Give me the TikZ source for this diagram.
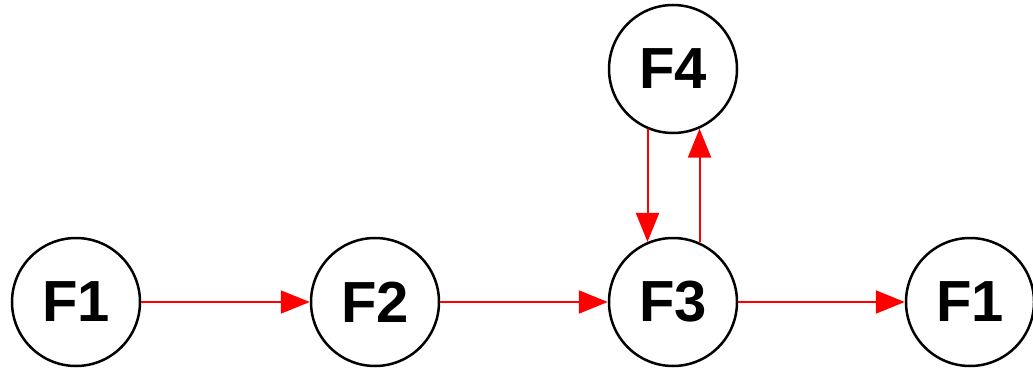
\documentclass[tikz,border=0pt]{standalone}
\usepackage{fontspec}
\setmainfont{Liberation Sans}
\usetikzlibrary{arrows.meta}
\begin{document}
\begin{tikzpicture}[x=1pt,y=-1pt,
  fnode/.style={circle,draw=black,line width=2.5pt,minimum size=128pt,inner sep=0pt,font=\fontsize{58}{60}\selectfont\bfseries},
  redarrow/.style={draw=red,line width=2pt,-{Triangle[length=29pt,width=23pt]}}]
\useasboundingbox (0,0) rectangle (1033,372);
\node[fnode] (a) at (76,302) {F1};
\node[fnode] (b) at (375,302) {F2};
\node[fnode] (c) at (673,302) {F3};
\node[fnode] (d) at (970,302) {F1};
\node[fnode] (e) at (673,69) {F4};
\draw[redarrow] (a) -- (b);
\draw[redarrow] (b) -- (c);
\draw[redarrow] (c) -- (d);
\draw[redarrow] (e.-113.6) -- (c.113.6);
\draw[redarrow] (c.66.4) -- (e.-66.4);
\end{tikzpicture}
\end{document}
